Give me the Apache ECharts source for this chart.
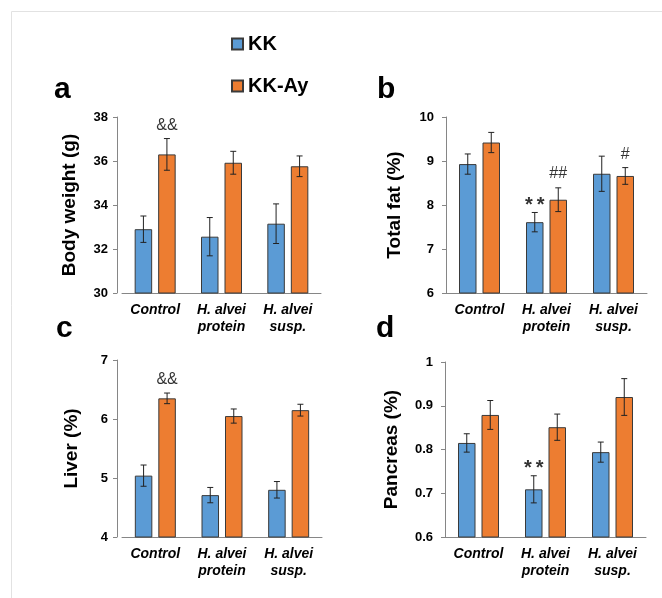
<!DOCTYPE html>
<html>
<head>
<meta charset="utf-8">
<script src="https://cdn.jsdelivr.net/npm/echarts@6/dist/echarts.min.js"></script>
<style>
html,body{margin:0;padding:0;background:#fff;}
#chart{width:662px;height:598px;}
</style>
</head>
<body>
<div id="chart"></div>
<script>
// ---------- data ----------
const categories = ['Control', 'H. alvei\nprotein', 'H. alvei\nsusp.'];
const seriesNames = ['KK', 'KK-Ay'];

const bodyKK = [32.9, 32.56, 33.15];
const bodyKKErr = [0.6, 0.87, 0.9];
const bodyKKAy = [36.3, 35.92, 35.76];
const bodyKKAyErr = [0.72, 0.52, 0.47];
const bodyAnnotKK = ['', '', ''];
const bodyAnnotKKAy = ['&&', '', ''];

const fatKK = [8.93, 7.61, 8.71];
const fatKKErr = [0.23, 0.22, 0.4];
const fatKKAy = [9.42, 8.12, 8.66];
const fatKKAyErr = [0.23, 0.27, 0.19];
const fatAnnotKK = ['', '**', ''];
const fatAnnotKKAy = ['', '##', '#'];

const liverKK = [5.04, 4.71, 4.8];
const liverKKErr = [0.18, 0.13, 0.14];
const liverKKAy = [6.35, 6.05, 6.15];
const liverKKAyErr = [0.09, 0.12, 0.1];
const liverAnnotKK = ['', '', ''];
const liverAnnotKKAy = ['&&', '', ''];

const pancKK = [0.815, 0.709, 0.794];
const pancKKErr = [0.021, 0.031, 0.023];
const pancKKAy = [0.879, 0.851, 0.92];
const pancKKAyErr = [0.033, 0.03, 0.042];
const pancAnnotKK = ['', '**', ''];
const pancAnnotKKAy = ['', '', ''];

const panelLetters = ['a', 'b', 'c', 'd'];
const axisNames = ['Body weight (g)', 'Total fat (%)', 'Liver (%)', 'Pancreas (%)'];
const yMin = [30, 6, 4, 0.6];
const yMax = [38, 10, 7, 1];
const yInterval = [2, 1, 1, 0.1];

// ---------- styles ----------
const FONT = '"Liberation Sans", Arial, sans-serif';
const BLUE = '#5B9BD5';
const ORANGE = '#ED7D31';
const AXIS = '#868686';
const BAR_W = 17.5;
const BAR_GAP = 6;
const HALF = (BAR_W + BAR_GAP) / 2;

const grids = [
  {left: 122, top: 117, width: 199, height: 176},
  {left: 446, top: 117, width: 201, height: 176},
  {left: 122, top: 360, width: 200, height: 177},
  {left: 445, top: 362, width: 201, height: 175}
];
const yOffsets = [5, 0, 5, 0];
const labelMargins = [9, 12, 9, 12];
const nameGaps = [38, 42, 36, 44];

const panels = [
  {kk: bodyKK, kkErr: bodyKKErr, ay: bodyKKAy, ayErr: bodyKKAyErr, annKK: bodyAnnotKK, annAy: bodyAnnotKKAy},
  {kk: fatKK, kkErr: fatKKErr, ay: fatKKAy, ayErr: fatKKAyErr, annKK: fatAnnotKK, annAy: fatAnnotKKAy},
  {kk: liverKK, kkErr: liverKKErr, ay: liverKKAy, ayErr: liverKKAyErr, annKK: liverAnnotKK, annAy: liverAnnotKKAy},
  {kk: pancKK, kkErr: pancKKErr, ay: pancKKAy, ayErr: pancKKAyErr, annKK: pancAnnotKK, annAy: pancAnnotKKAy}
];

// text offsets above error-bar top, by symbol
const annotStyle = {
  '&&': {d: 13, size: 16, weight: 'normal', spacing: 0},
  '##': {d: 14, size: 16, weight: 'normal', spacing: 0},
  '#':  {d: 13, size: 16, weight: 'normal', spacing: 0},
  '**': {d: 7,  size: 20, weight: 'bold', spacing: 2}
};

function errorSeries(gi, vals, errs, anns, side) {
  return {
    type: 'custom',
    xAxisIndex: gi, yAxisIndex: gi,
    z: 5,
    data: vals.map((v, i) => [i, v, errs[i]]),
    renderItem: function (params, api) {
      const i = api.value(0);
      const v = api.value(1);
      const e = api.value(2);
      const ann = anns[i];
      const top = api.coord([i, v + e]);
      const bot = api.coord([i, v - e]);
      const x = top[0] + side * HALF;
      const cap = 3;
      const st = {stroke: '#222', lineWidth: 1};
      const children = [
        {type: 'line', shape: {x1: x, y1: top[1], x2: x, y2: bot[1]}, style: st},
        {type: 'line', shape: {x1: x - cap, y1: top[1], x2: x + cap, y2: top[1]}, style: st},
        {type: 'line', shape: {x1: x - cap, y1: bot[1], x2: x + cap, y2: bot[1]}, style: st}
      ];
      if (ann) {
        const s = annotStyle[ann];
        const txt = s.spacing ? ann.split('').join('\u2009') : ann;
        children.push({
          type: 'text',
          style: {
            text: txt, x: x, y: top[1] - s.d,
            align: 'center', verticalAlign: 'middle',
            font: s.weight + ' ' + s.size + 'px ' + FONT,
            fill: '#333'
          }
        });
      }
      return {type: 'group', children: children};
    }
  };
}

const xAxes = [], yAxes = [], series = [];
grids.forEach((g, gi) => {
  xAxes.push({
    type: 'category', gridIndex: gi, data: categories,
    axisLine: {lineStyle: {color: AXIS, width: 1}},
    axisTick: {show: false},
    axisLabel: {
      color: '#000', fontFamily: FONT, fontWeight: 'bold', fontStyle: 'italic',
      fontSize: 14, lineHeight: 17, margin: 9, interval: 0
    }
  });
  yAxes.push({
    type: 'value', gridIndex: gi, min: yMin[gi], max: yMax[gi], interval: yInterval[gi],
    offset: yOffsets[gi],
    name: axisNames[gi], nameLocation: 'middle', nameGap: nameGaps[gi],
    nameTextStyle: {color: '#000', fontFamily: FONT, fontWeight: 'bold', fontSize: 19},
    axisLine: {show: true, lineStyle: {color: AXIS, width: 1}},
    axisTick: {show: true, length: 4, lineStyle: {color: AXIS}},
    splitLine: {show: false},
    axisLabel: {color: '#000', fontFamily: FONT, fontWeight: 'bold', fontSize: 13, margin: labelMargins[gi]}
  });
  const p = panels[gi];
  series.push({
    name: seriesNames[0], type: 'bar', xAxisIndex: gi, yAxisIndex: gi, data: p.kk,
    barWidth: BAR_W, barGap: (BAR_GAP / BAR_W * 100) + '%',
    itemStyle: {color: BLUE, borderColor: '#3a3a3a', borderWidth: 1}
  });
  series.push({
    name: seriesNames[1], type: 'bar', xAxisIndex: gi, yAxisIndex: gi, data: p.ay,
    barWidth: BAR_W, barGap: (BAR_GAP / BAR_W * 100) + '%',
    itemStyle: {color: ORANGE, borderColor: '#3a3a3a', borderWidth: 1}
  });
  series.push(errorSeries(gi, p.kk, p.kkErr, p.annKK, -1));
  series.push(errorSeries(gi, p.ay, p.ayErr, p.annAy, 1));
});

const letterPos = [[54, 103], [377, 103], [56, 342], [376, 342]];
const graphics = [
  {type: 'rect', shape: {x: 11.5, y: 11.5, width: 700, height: 700},
   style: {fill: 'none', stroke: '#e2e2e2', lineWidth: 1}, silent: true}
];
panelLetters.forEach((l, i) => {
  graphics.push({
    type: 'text', left: letterPos[i][0], top: letterPos[i][1] - 28,
    style: {text: l, font: 'bold 30px ' + FONT, fill: '#000'}
  });
});

const chart = echarts.init(document.getElementById('chart'), null, {renderer: 'canvas'});
chart.setOption({
  animation: false,
  backgroundColor: '#fff',
  legend: {
    data: seriesNames,
    orient: 'vertical', left: 226, top: 29,
    itemWidth: 11, itemHeight: 11, itemGap: 22,
    icon: 'rect',
    textStyle: {color: '#000', fontFamily: FONT, fontWeight: 'bold', fontSize: 20}
  },
  grid: grids,
  xAxis: xAxes,
  yAxis: yAxes,
  series: series,
  graphic: graphics
});
</script>
</body>
</html>
